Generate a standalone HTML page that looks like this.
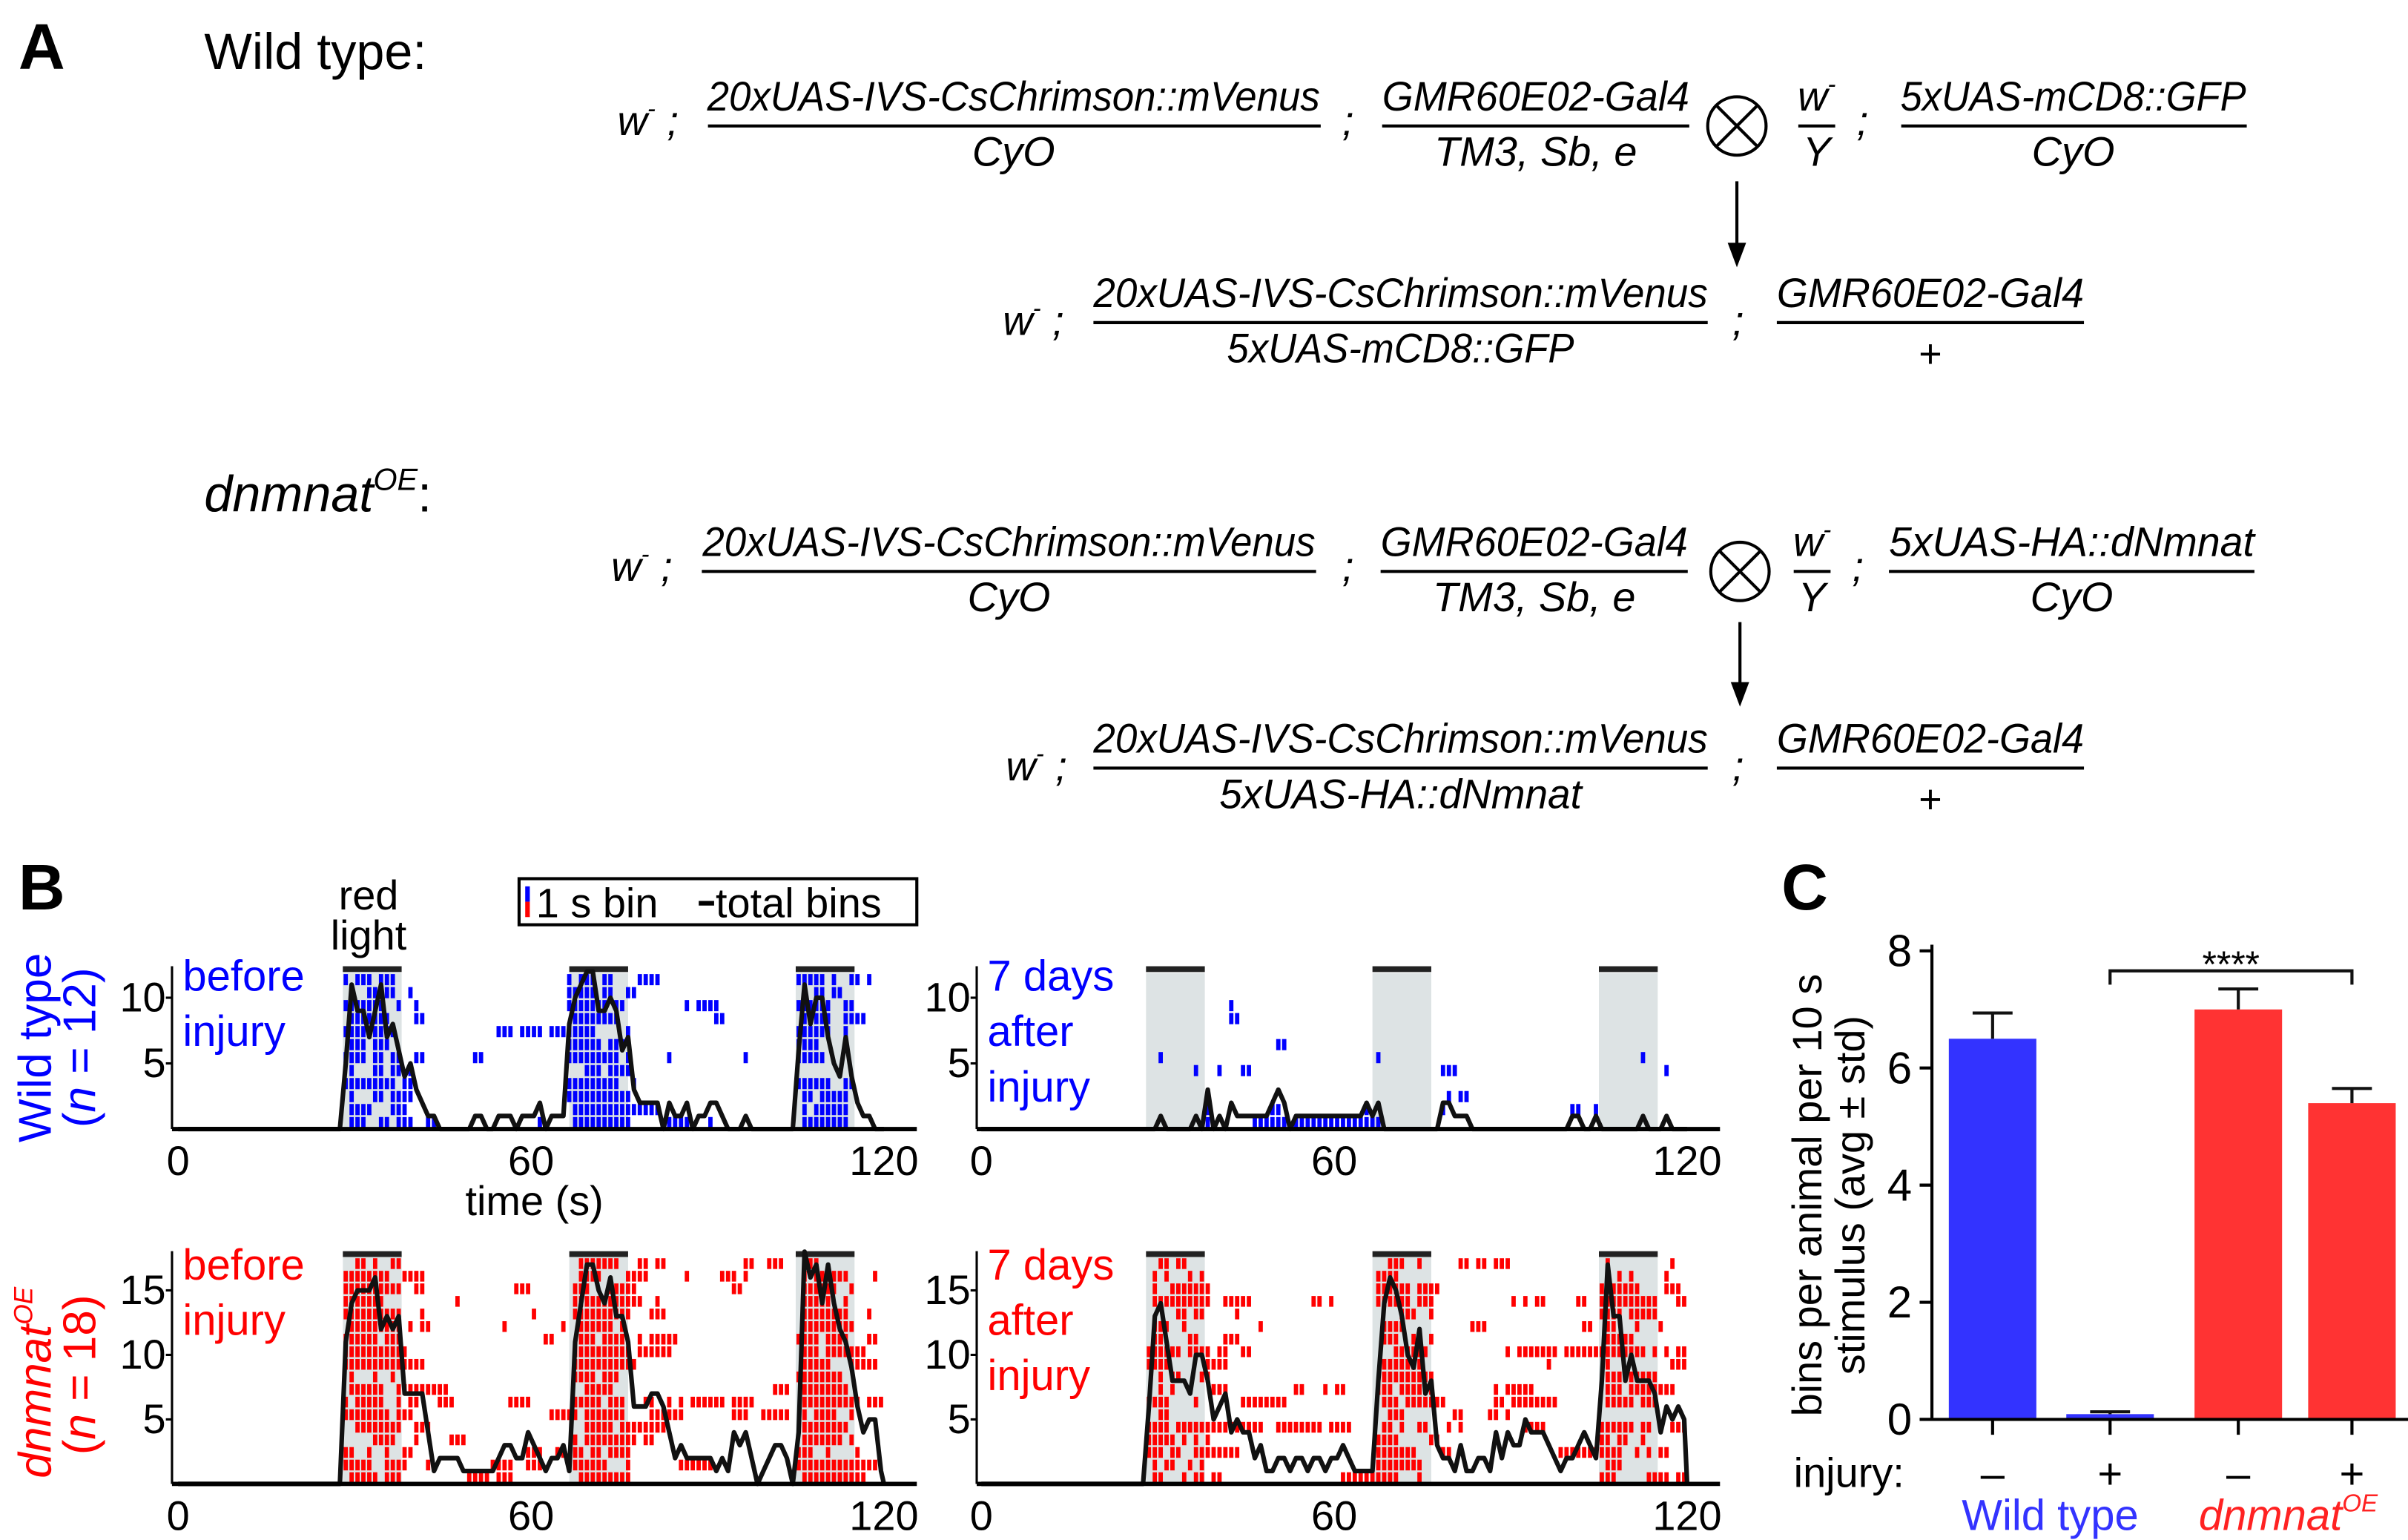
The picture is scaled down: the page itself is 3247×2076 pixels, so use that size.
<!DOCTYPE html>
<html><head><meta charset="utf-8"><style>
html,body{margin:0;padding:0;background:#fff;}
svg{display:block;font-family:"Liberation Sans",sans-serif;}
.g{font-style:italic;font-size:27px;}
</style></head><body>
<svg id="fig" width="3247" height="2076" viewBox="0 0 1568 1002.5" xmlns="http://www.w3.org/2000/svg">
<rect x="0" y="0" width="1568" height="1002.5" fill="#fff"/>
<!-- Panel A -->
<g>
<text x="12" y="45" font-size="42" font-weight="bold">A</text>
<text x="133" y="45" font-size="33">Wild type:</text>
<g class="g">
<text x="402" y="88">w<tspan font-size="16" dy="-12">-</tspan><tspan dy="12"> ;</tspan></text>
<text x="660" y="72" text-anchor="middle" textLength="399" lengthAdjust="spacingAndGlyphs">20xUAS-IVS-CsChrimson::mVenus</text>
<line x1="461" y1="82" x2="860" y2="82" stroke="#000" stroke-width="2"/>
<text x="660" y="108" text-anchor="middle">CyO</text>
<text x="874" y="88">;</text>
<text x="1000" y="72" text-anchor="middle" textLength="200" lengthAdjust="spacingAndGlyphs">GMR60E02-Gal4</text>
<line x1="900" y1="82" x2="1100" y2="82" stroke="#000" stroke-width="2"/>
<text x="1000" y="108" text-anchor="middle">TM3, Sb, e</text>
<circle cx="1131" cy="82" r="19" fill="none" stroke="#000" stroke-width="2"/>
<line x1="1117.5" y1="68.5" x2="1144.5" y2="95.5" stroke="#000" stroke-width="2"/>
<line x1="1144.5" y1="68.5" x2="1117.5" y2="95.5" stroke="#000" stroke-width="2"/>
<text x="1183" y="72" text-anchor="middle">w<tspan font-size="16" dy="-12">-</tspan></text>
<line x1="1171" y1="82" x2="1195" y2="82" stroke="#000" stroke-width="2"/>
<text x="1183" y="108" text-anchor="middle">Y</text>
<text x="1209" y="88">;</text>
<text x="1350" y="72" text-anchor="middle" textLength="225" lengthAdjust="spacingAndGlyphs">5xUAS-mCD8::GFP</text>
<line x1="1238" y1="82" x2="1463" y2="82" stroke="#000" stroke-width="2"/>
<text x="1350" y="108" text-anchor="middle">CyO</text>
<line x1="1131" y1="118" x2="1131" y2="160" stroke="#000" stroke-width="2"/>
<polygon points="1125,158 1137,158 1131,174" fill="#000"/>
<text x="653" y="218">w<tspan font-size="16" dy="-12">-</tspan><tspan dy="12"> ;</tspan></text>
<text x="912" y="200" text-anchor="middle" textLength="400" lengthAdjust="spacingAndGlyphs">20xUAS-IVS-CsChrimson::mVenus</text>
<line x1="712" y1="210" x2="1112" y2="210" stroke="#000" stroke-width="2"/>
<text x="912" y="236" text-anchor="middle" textLength="226" lengthAdjust="spacingAndGlyphs">5xUAS-mCD8::GFP</text>
<text x="1128" y="218">;</text>
<text x="1257" y="200" text-anchor="middle" textLength="200" lengthAdjust="spacingAndGlyphs">GMR60E02-Gal4</text>
<line x1="1157" y1="210" x2="1357" y2="210" stroke="#000" stroke-width="2"/>
<text x="1257" y="239" text-anchor="middle" font-style="normal" font-size="26">+</text>
</g>
<text x="133" y="333" font-size="33" font-style="italic">dnmnat<tspan font-size="20" dy="-14">OE</tspan><tspan dy="14" font-style="normal">:</tspan></text>
<g class="g">
<text x="398" y="378">w<tspan font-size="16" dy="-12">-</tspan><tspan dy="12"> ;</tspan></text>
<text x="657" y="362" text-anchor="middle" textLength="399" lengthAdjust="spacingAndGlyphs">20xUAS-IVS-CsChrimson::mVenus</text>
<line x1="457" y1="372" x2="857" y2="372" stroke="#000" stroke-width="2"/>
<text x="657" y="398" text-anchor="middle">CyO</text>
<text x="874" y="378">;</text>
<text x="999" y="362" text-anchor="middle" textLength="200" lengthAdjust="spacingAndGlyphs">GMR60E02-Gal4</text>
<line x1="899" y1="372" x2="1099" y2="372" stroke="#000" stroke-width="2"/>
<text x="999" y="398" text-anchor="middle">TM3, Sb, e</text>
<circle cx="1133" cy="372" r="19" fill="none" stroke="#000" stroke-width="2"/>
<line x1="1119.5" y1="358.5" x2="1146.5" y2="385.5" stroke="#000" stroke-width="2"/>
<line x1="1146.5" y1="358.5" x2="1119.5" y2="385.5" stroke="#000" stroke-width="2"/>
<text x="1180" y="362" text-anchor="middle">w<tspan font-size="16" dy="-12">-</tspan></text>
<line x1="1168" y1="372" x2="1192" y2="372" stroke="#000" stroke-width="2"/>
<text x="1180" y="398" text-anchor="middle">Y</text>
<text x="1206" y="378">;</text>
<text x="1349" y="362" text-anchor="middle" textLength="238" lengthAdjust="spacingAndGlyphs">5xUAS-HA::dNmnat</text>
<line x1="1230" y1="372" x2="1468" y2="372" stroke="#000" stroke-width="2"/>
<text x="1349" y="398" text-anchor="middle">CyO</text>
<line x1="1133" y1="405" x2="1133" y2="446" stroke="#000" stroke-width="2"/>
<polygon points="1127,444 1139,444 1133,460" fill="#000"/>
<text x="655" y="508">w<tspan font-size="16" dy="-12">-</tspan><tspan dy="12"> ;</tspan></text>
<text x="912" y="490" text-anchor="middle" textLength="400" lengthAdjust="spacingAndGlyphs">20xUAS-IVS-CsChrimson::mVenus</text>
<line x1="712" y1="500" x2="1112" y2="500" stroke="#000" stroke-width="2"/>
<text x="912" y="526" text-anchor="middle" textLength="236" lengthAdjust="spacingAndGlyphs">5xUAS-HA::dNmnat</text>
<text x="1128" y="508">;</text>
<text x="1257" y="490" text-anchor="middle" textLength="200" lengthAdjust="spacingAndGlyphs">GMR60E02-Gal4</text>
<line x1="1157" y1="500" x2="1357" y2="500" stroke="#000" stroke-width="2"/>
<text x="1257" y="529" text-anchor="middle" font-style="normal" font-size="26">+</text>
</g>
</g>
<!-- Panel B static -->
<g font-size="28">
<text x="12" y="592" font-size="42" font-weight="bold">B</text>
<text x="240" y="592" text-anchor="middle" font-size="27">red</text>
<text x="240" y="618" text-anchor="middle" font-size="27">light</text>
<g>
<rect x="338" y="572" width="259" height="30" fill="#fff" stroke="#000" stroke-width="2"/>
<rect x="342" y="577" width="3" height="10" fill="#0000ff"/>
<rect x="342" y="587" width="3" height="10" fill="#ff0000"/>
<text x="349" y="597" font-size="27">1 s bin</text>
<line x1="455" y1="588" x2="465" y2="588" stroke="#000" stroke-width="3"/>
<text x="466" y="597" font-size="27">total bins</text>
</g>
<text transform="translate(33,682) rotate(-90)" text-anchor="middle" fill="#0000ff" font-size="30">Wild type</text>
<text transform="translate(62,682) rotate(-90)" text-anchor="middle" fill="#0000ff" font-size="30">(<tspan font-style="italic">n</tspan> = 12)</text>
<text transform="translate(33,900) rotate(-90)" text-anchor="middle" fill="#ff0000" font-size="30" font-style="italic">dnmnat<tspan font-size="17" dy="-12">OE</tspan></text>
<text transform="translate(62,895) rotate(-90)" text-anchor="middle" fill="#ff0000" font-size="30">(<tspan font-style="italic">n</tspan> = 18)</text>
<text x="120" y="645" fill="#0000ff"><tspan x="119">before</tspan><tspan x="119" dy="36">injury</tspan></text>
<text fill="#0000ff"><tspan x="643" y="645">7 days</tspan><tspan x="643" dy="36">after</tspan><tspan x="643" dy="36">injury</tspan></text>
<text fill="#ff0000"><tspan x="119" y="833">before</tspan><tspan x="119" dy="36">injury</tspan></text>
<text fill="#ff0000"><tspan x="643" y="833">7 days</tspan><tspan x="643" dy="36">after</tspan><tspan x="643" dy="36">injury</tspan></text>
<text x="348" y="791" text-anchor="middle" font-size="27">time (s)</text>
</g>
<g id="rasters"></g>
<!-- Panel C static -->
<g font-size="28">
<text x="1160" y="592" font-size="42" font-weight="bold">C</text>
<text transform="translate(1186,778) rotate(-90)" text-anchor="middle" font-size="27">bins per animal per 10 s</text>
<text transform="translate(1214,778) rotate(-90)" text-anchor="middle" font-size="27">stimulus (avg ± std)</text>
<text x="1168" y="968" font-size="27">injury:</text>
<text x="1335" y="996" text-anchor="middle" fill="#3333ff" font-size="28">Wild type</text>
<text x="1490" y="996" text-anchor="middle" fill="#ff2222" font-size="28" font-style="italic">dnmnat<tspan font-size="16" dy="-12">OE</tspan></text>
</g>
<g id="panelc"></g>
</svg>
<script>
// ---------- Panel B data (active 1 s bins per animal row, top row first) ----------
const stimStarts = [28, 66.5, 105];
const stimDur = 10;
const rowsWTBefore = [
"28,30-32,34-36,66,68-70,72-73,78-81,105-109,111,114-115,117",
"29,32-36,39,66-70,72-73,76-77,106,108-109,111-112",
"28-34,37,40,66-72,74-75,86,88-91,105-110,113-114",
"29-35,40-41,67-74,91-92,106,108-110,113-116",
"28-36,54-56,58-61,63-70,76,105-110,113",
"29-31,33-35,66-71,73-75,105-108",
"28-31,33-34,36-37,40-41,50-51,66-74,76,83,96,105-109",
"29,33-34,36-37,39,69-71,73-76",
"28-36,38-39,66-74,77,105-110,113-114",
"29,33-34,36-39,66-71,72-76,106-107,109-113",
"29-32,36-38,67-77,78-81,106,108-113",
"29-31,34-35,37-39,42-43,61,67-76,83-86,90,106-113"
];
const rowsWTAfter = [
"", "", "42", "42-43", "", "50-51", "30,67,112",
"36,40,44-45,78-80,116", "", "38,79,81-82",
"38,49-50,65,78,100-101,104",
"38,46-51,53-56,57-65,66-67"
];
const rowsOEBefore = [
"30-31,33,36-37,68-69,70-72,73-74,78-79,81-82,96-97,100-102,106-108",
"28-35,38-41,68-70,71,76-79,86,92-94,96,106,108-109,110-113,118",
"28-37,40-41,57-59,67-69,73-77,94-95,106-111,114",
"28-34,47,67-73,74-76,77-78,81,106-107,108-110,113",
"28-37,41,60,67-76,80-82,106-113,117",
"29-37,39,41-42,55,65,68-73,75,106-114",
"28,29-30,31-33,35-37,62-63,68-70,72-75,78,80-84,105,106-108,110-113,117-118",
"28-38,67-76,78-83,106-108,110-113,114-116",
"28-41,67-77,106-107,108-110,114-118",
"29,33,36,67-70,72-74,105-108,109-112",
"29-34,37-45,69-73,101-103,106-110,111-113",
"28,30-34,37,39-40,44-46,56-59,67-71,73-75,79-80,83,85,87-92,94-97,106-115,117-119",
"28-35,37-39,63-67,69-75,80-85,94-96,99-103,106,108-109,110-111,114",
"30-37,40-42,69-73,75,76-82,106-113",
"33-36,40,46-48,67,69-71,72-74,75-77,79-80,106-108,109-112,114",
"28-29,32,35,38-39,59-61,64-65,67-68,70-71,73-76,105-107,110,115",
"28-32,35-38,42,53-56,59-61,67-72,76,85-90,105-118",
"29-33,35-37,49-52,54-56,68-76,106-116"
];
const rowsOEAfter = [
"30-31,33-34,69-71,74,81-82,84-85,87-89,106,117",
"29,31,35,37,67-70,106,108,110,116",
"29,32-38,67-72,74-77,105-111,116-118",
"29-38,41,42-45,56-57,59,67-72,74-76,90,92,94-95,101-102,105-114,118-119,120",
"33-34,36-37,43,71-73,76,105-107,108,110-114",
"29-31,34,47,68-71,83-85,102-103,106-107,111,115",
"29-30,35-36,41-43,68-70,73-74,76,106-110",
"28-33,35-38,40-41,44-45,70-75,89,91-97,99-112,114,116,118-119",
"28-31,38-41,68-72,73-74,96,106,117-119",
"30,32-33,37-38,68-76,106-109,110-114",
"30,32,39-41,53-54,58,60-61,67-69,71-76,87,89-93,106-108,110-117",
"28-31,36,44-48,49-51,68-70,72-74,75-78,87-88,90-93,94-97,106-110,112-114",
"30-31,69-71,80-81,86-87,89",
"28-31,33-36,37-47,50-55,56-57,59-62,68-69,71,74,75,79,81,92-95,105-110,112-113,117-119",
"28-32,34,36,38,67-70,76-77,105-106,108-109,112",
"28-30,32-33,36-37,38-43,67-73,78-79,98-108,111,113,115-116",
"29,31-32,35,37,67-71,72-74,106-108",
"29-30,34,36-37,39-40,61-70,74,105-107,113-116,118-120"
];
const yTicksTop = [5, 10];
const yTicksBottom = [5, 10, 15];
const xTicks = [0, 60, 120];

// ---------- Panel C data ----------
const cGroups = ["WT -", "WT +", "OE -", "OE +"];
const cInjury = ["\u2013", "+", "\u2013", "+"];
const cMeans = [6.5, 0.09, 7.0, 5.4];
const cStd = [0.44, 0.04, 0.35, 0.25];
const cColors = ["#3333ff", "#3333ff", "#ff3333", "#ff3333"];
const cYTicks = [0, 2, 4, 6, 8];
const cSig = "****";

const NS = "http://www.w3.org/2000/svg";
function mk(tag, attrs, parent) {
  const e = document.createElementNS(NS, tag);
  for (const k in attrs) e.setAttribute(k, attrs[k]);
  parent.appendChild(e);
  return e;
}
function parseRow(s) {
  const out = [];
  if (!s) return out;
  s.split(",").forEach(p => {
    const ab = p.split("-").map(Number);
    const a = ab[0], b = ab.length > 1 ? ab[1] : ab[0];
    for (let t = a; t <= b; t++) if (t < 120) out.push(t);
  });
  return out;
}

const panels = [
  {name: "wt-before", rows: rowsWTBefore, color: "#0000ff", x0: 116, axisX: 112, xEnd: 597, base: 735, unit: 8.55, top: 633.5, barY: 629, ticks: yTicksTop, xlabY: 765},
  {name: "wt-after", rows: rowsWTAfter, color: "#0000ff", x0: 639, axisX: 636, xEnd: 1120, base: 735, unit: 8.55, top: 633.5, barY: 629, ticks: yTicksTop, xlabY: 765},
  {name: "oe-before", rows: rowsOEBefore, color: "#ff0000", x0: 116, axisX: 112, xEnd: 597, base: 966, unit: 8.4, top: 818.5, barY: 814.5, ticks: yTicksBottom, xlabY: 996},
  {name: "oe-after", rows: rowsOEAfter, color: "#ff0000", x0: 639, axisX: 636, xEnd: 1120, base: 966, unit: 8.4, top: 818.5, barY: 814.5, ticks: yTicksBottom, xlabY: 996}
];
const SX = 3.83;
const root = document.getElementById("rasters");
panels.forEach(p => {
  const g = mk("g", {}, root);
  
  
  const xs = t => p.x0 + t * SX;
  const ys = v => p.base - v * p.unit;
  const pitch = (p.base - p.top) / p.rows.length;
  stimStarts.forEach((s, i) => {
    const r = mk("rect", {x: xs(s), y: p.top, width: stimDur * SX, height: p.base - p.top, fill: "#dde3e4"}, g);
    
    
    const b = mk("rect", {x: xs(s), y: p.barY, width: stimDur * SX, height: 3.8, fill: "#222"}, g);
    
    
  });
  const counts = new Array(120).fill(0);
  p.rows.forEach((row, ri) => {
    const ts = parseRow(row);
    ts.forEach(t => {
      counts[t]++;
      const r = mk("rect", {x: xs(t) + 0.5, y: p.top + ri * pitch + 0.6, width: 2.8, height: pitch - 1.2, fill: p.color}, g);
      
      
    });
  });
  let d = "M" + xs(0) + "," + ys(0);
  for (let t = 0; t < 120; t++) d += " L" + xs(t + 0.5).toFixed(2) + "," + ys(counts[t]).toFixed(2);
  d += " L" + xs(120) + "," + ys(0);
  const line = mk("path", {d: d, fill: "none", stroke: "#111", "stroke-width": 3, "stroke-linejoin": "round"}, g);
  
  
  const ax = mk("line", {x1: p.axisX, y1: p.barY, x2: p.axisX, y2: p.base, stroke: "#000", "stroke-width": 1.5}, g);
  
  
  const bx = mk("line", {x1: p.axisX, y1: p.base, x2: p.xEnd, y2: p.base, stroke: "#000", "stroke-width": 2.8}, g);
  
  
  p.ticks.forEach(v => {
    const tk = mk("line", {x1: p.axisX - 4, y1: ys(v), x2: p.axisX, y2: ys(v), stroke: "#000", "stroke-width": 1.5}, g);
    
    
    const tl = mk("text", {x: p.axisX - 4, y: ys(v) + 9, "text-anchor": "end", "font-size": 27}, g);
    
    
    tl.textContent = v;
  });
  xTicks.forEach(v => {
    const tl = mk("text", {x: xs(v), y: p.xlabY, "text-anchor": "middle", "font-size": 27}, g);
    
    
    tl.textContent = v;
  });
});

// ---------- Panel C ----------
const pc = document.getElementById("panelc");
const cAxisX = 1258, cBase = 924, cUnit = (924 - 619) / 8;
const cCenters = [1297.5, 1374, 1457.5, 1531.5];
const cBarW = 57;
const cy = v => cBase - v * cUnit;
cMeans.forEach((m, i) => {
  const b = mk("rect", {x: cCenters[i] - cBarW / 2, y: cy(m), width: cBarW, height: cBase - cy(m), fill: cColors[i]}, pc);
  
  
  const e = mk("path", {d: "M" + cCenters[i] + "," + cy(m) + " V" + cy(m + cStd[i]) + " M" + (cCenters[i] - 13) + "," + cy(m + cStd[i]) + " H" + (cCenters[i] + 13), stroke: "#111", "stroke-width": 2, fill: "none"}, pc);
  
  
  const tk = mk("line", {x1: cCenters[i], y1: cBase, x2: cCenters[i], y2: cBase + 10, stroke: "#000", "stroke-width": 2}, pc);
  
  
  const lbl = mk("text", {x: cCenters[i], y: 969, "text-anchor": "middle", "font-size": 28}, pc);
  
  
  lbl.textContent = cInjury[i];
});
const cya = mk("line", {x1: cAxisX, y1: 615, x2: cAxisX, y2: cBase, stroke: "#000", "stroke-width": 2}, pc);


const cxa = mk("line", {x1: 1250, y1: cBase, x2: 1568, y2: cBase, stroke: "#000", "stroke-width": 2}, pc);


cYTicks.forEach(v => {
  const tk = mk("line", {x1: 1250, y1: cy(v), x2: cAxisX, y2: cy(v), stroke: "#000", "stroke-width": 2}, pc);
  
  
  const tl = mk("text", {x: 1245, y: cy(v) + 10, "text-anchor": "end", "font-size": 29}, pc);
  
  
  tl.textContent = v;
});
const br = mk("path", {d: "M" + cCenters[1] + ",641 V632 H" + cCenters[3] + " V641", stroke: "#111", "stroke-width": 2, fill: "none"}, pc);


const st = mk("text", {x: (cCenters[1] + cCenters[3]) / 2, y: 636, "text-anchor": "middle", "font-size": 24}, pc);


st.textContent = cSig;
</script>
</body></html>
